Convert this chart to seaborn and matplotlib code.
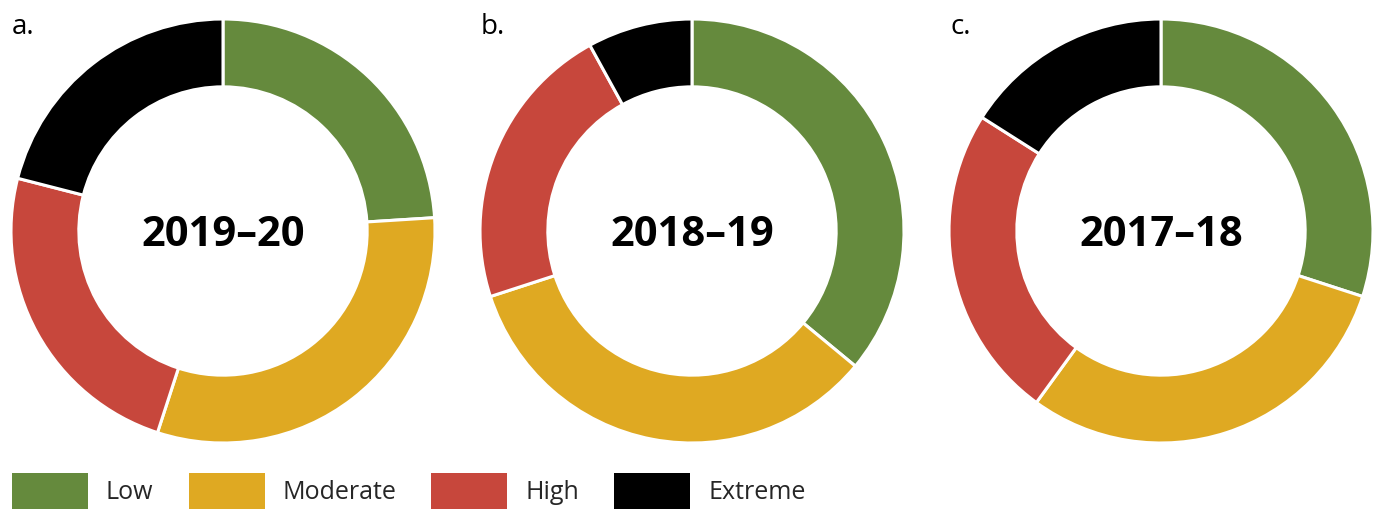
import matplotlib
matplotlib.use("Agg")
import matplotlib.pyplot as plt
from matplotlib.patches import Patch
import seaborn as sns

# Risk rating shares (%) for each financial year
categories = ["Low", "Moderate", "High", "Extreme"]
panel_letters = ["a.", "b.", "c."]
years = ["2019–20", "2018–19", "2017–18"]
shares_2019_20 = [24, 31, 24, 21]
shares_2018_19 = [36, 34, 22, 8]
shares_2017_18 = [30, 30, 24, 16]
colours = ["#658a3d", "#dfa922", "#c7473c", "#000000"]

sns.set_theme(style="white")
plt.rcParams["font.family"] = ["Open Sans", "DejaVu Sans"]

W, H = 1378, 509
fig = plt.figure(figsize=(W / 100, H / 100), dpi=100)

centres = [(223, 231), (692, 231), (1161, 231)]
radius_px = 212
all_shares = [shares_2019_20, shares_2018_19, shares_2017_18]

for (cx, cy), shares, year, letter in zip(centres, all_shares, years, panel_letters):
    ax = fig.add_axes([(cx - radius_px) / W, (H - cy - radius_px) / H,
                       2 * radius_px / W, 2 * radius_px / H])
    ax.pie(shares, colors=colours, startangle=90, counterclock=False,
           radius=1.0, wedgeprops=dict(width=0.32, edgecolor="white", linewidth=2.2))
    ax.set_xlim(-1, 1)
    ax.set_ylim(-1, 1)
    ax.set_aspect("equal")
    ax.axis("off")
    ax.text(0, -0.02, year, ha="center", va="center", fontsize=30, fontweight="bold",
            color="black")
    fig.text((cx - 211) / W, (H - 34) / H, letter, ha="left", va="baseline",
             fontsize=20, color="black")

fs_pt = 18
fs_px = fs_pt * 100 / 72
handles = [Patch(facecolor=c, edgecolor="none") for c in colours]
fig.legend(handles, categories, loc="upper left", ncol=4,
           bbox_to_anchor=(12 / W, (H - 473) / H), frameon=False,
           borderpad=0, borderaxespad=0, fontsize=fs_pt,
           handlelength=76 / fs_px, handleheight=46 / fs_px,
           handletextpad=18 / fs_px, columnspacing=35 / fs_px)

fig.savefig("out.png", dpi=100, facecolor="white")
